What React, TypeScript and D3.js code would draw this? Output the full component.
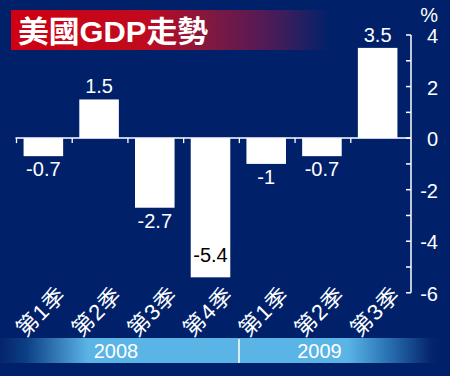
import React from "react";
import * as d3 from "d3";

const categories = ["第1季", "第2季", "第3季", "第4季", "第1季", "第2季", "第3季"];
const values = [-0.7, 1.5, -2.7, -5.4, -1, -0.7, 3.5];
const valueLabels = ["-0.7", "1.5", "-2.7", "-5.4", "-1", "-0.7", "3.5"];
const yTicks = [4, 3, 2, 1, 0, -1, -2, -3, -4, -5, -6];
const yTickLabels = [4, 2, 0, -2, -4, -6];
const years = ["2008", "2009"];
const yearCenters = [116, 319.5];
const title = "美國GDP走勢";
const unit = "%";

const W = 450;
const H = 376;
const BG = "#00216a";
const FONT = "'Liberation Sans', Arial, 'Noto Sans CJK TC', sans-serif";

export default function App() {
  const x = d3.scaleBand<number>().domain(d3.range(categories.length)).range([15.5, 405.5]).padding(0);
  const y = d3.scaleLinear().domain([-6, 4]).range([292.8, 35]);
  const axisX = 411;
  const barW = x.bandwidth() * 0.71;
  const cx = (i: number) => (x(i) as number) + x.bandwidth() / 2;

  return (
    <svg width={W} height={H} style={{ display: "block", position: "absolute", left: 0, top: 0 }}>
      <defs>
        <linearGradient id="titleGrad" x1="11" x2="330" y1="0" y2="0" gradientUnits="userSpaceOnUse">
          <stop offset="0" stopColor="#cf0012" />
          <stop offset="0.42" stopColor="#c00a1e" />
          <stop offset="0.62" stopColor="#82183f" />
          <stop offset="0.78" stopColor="#561a55" />
          <stop offset="0.9" stopColor="#2a1f60" />
          <stop offset="1" stopColor={BG} />
        </linearGradient>
        <linearGradient id="yearGrad" x1="0" x2="440" y1="0" y2="0" gradientUnits="userSpaceOnUse">
          <stop offset="0" stopColor="#05246b" />
          <stop offset="0.06" stopColor="#0c3f85" />
          <stop offset="0.2" stopColor="#5ab4e6" />
          <stop offset="0.79" stopColor="#5ab4e6" />
          <stop offset="0.88" stopColor="#2a73b5" />
          <stop offset="0.98" stopColor="#05246b" />
          <stop offset="1" stopColor={BG} />
        </linearGradient>
      </defs>
      <rect x={0} y={0} width={W} height={H} fill={BG} />

      {/* title */}
      <rect x={11} y={10} width={319} height={40} fill="url(#titleGrad)" />
      <text x={18} y={42} fill="#fff" fontSize={30} fontWeight="bold" fontFamily={FONT} textLength={190} lengthAdjust="spacingAndGlyphs">
        {title}
      </text>

      {/* unit */}
      <text x={438} y={22} fill="#fff" fontSize={20} fontFamily={FONT} textAnchor="end">
        {unit}
      </text>

      {/* bars */}
      {values.map((v, i) => (
        <rect
          key={"b" + i}
          x={cx(i) - barW / 2}
          y={Math.min(y(v), y(0))}
          width={barW}
          height={Math.abs(y(v) - y(0))}
          fill="#fff"
        />
      ))}

      {/* baseline with boundary ticks */}
      <line x1={x(0) as number} x2={axisX} y1={y(0)} y2={y(0)} stroke="#fff" strokeWidth={1.5} />
      {categories.map((_, i) => (
        <line
          key={"bw" + i}
          x1={(x(i) as number) + 1}
          x2={(x(i) as number) + 1}
          y1={y(0)}
          y2={y(0) + 5}
          stroke="#fff"
          strokeWidth={1.3}
        />
      ))}

      {/* value labels */}
      {values.map((v, i) => {
        const inside = v < -5;
        let ly: number;
        if (v >= 0) ly = y(v) - 6;
        else if (inside) ly = y(v) - 15;
        else ly = y(v) + 20;
        return (
          <text
            key={"v" + i}
            x={cx(i)}
            y={ly}
            fill={inside ? "#000" : "#fff"}
            fontSize={20}
            fontFamily={FONT}
            textAnchor="middle"
          >
            {valueLabels[i]}
          </text>
        );
      })}

      {/* y axis */}
      <line x1={axisX} x2={axisX} y1={y(4)} y2={y(-6)} stroke="#fff" strokeWidth={1.5} />
      {yTicks.map((t) => (
        <line key={"t" + t} x1={axisX - 5} x2={axisX} y1={y(t)} y2={y(t)} stroke="#fff" strokeWidth={1.5} />
      ))}
      {yTickLabels.map((t) => (
        <text
          key={"tl" + t}
          x={438}
          y={y(t) + 8}
          fill="#fff"
          fontSize={20}
          fontFamily={FONT}
          textAnchor="end"
        >
          {t}
        </text>
      ))}

      {/* category labels */}
      {categories.map((c, i) => (
        <text
          key={"c" + i}
          transform={`translate(${cx(i) + 24},${296}) rotate(-45)`}
          fill="#fff"
          fontSize={22}
          fontFamily={FONT}
          textAnchor="end"
          letterSpacing={1}
        >
          {c}
        </text>
      ))}

      {/* year band */}
      <rect x={0} y={338} width={440} height={25} fill="url(#yearGrad)" />
      <line x1={239} x2={239} y1={339} y2={363} stroke="#fff" strokeWidth={1.5} />
      {years.map((yr, k) => (
        <text key={yr} x={yearCenters[k]} y={358} fill="#fff" fontSize={20} fontFamily={FONT} textAnchor="middle">
          {yr}
        </text>
      ))}
    </svg>
  );
}
